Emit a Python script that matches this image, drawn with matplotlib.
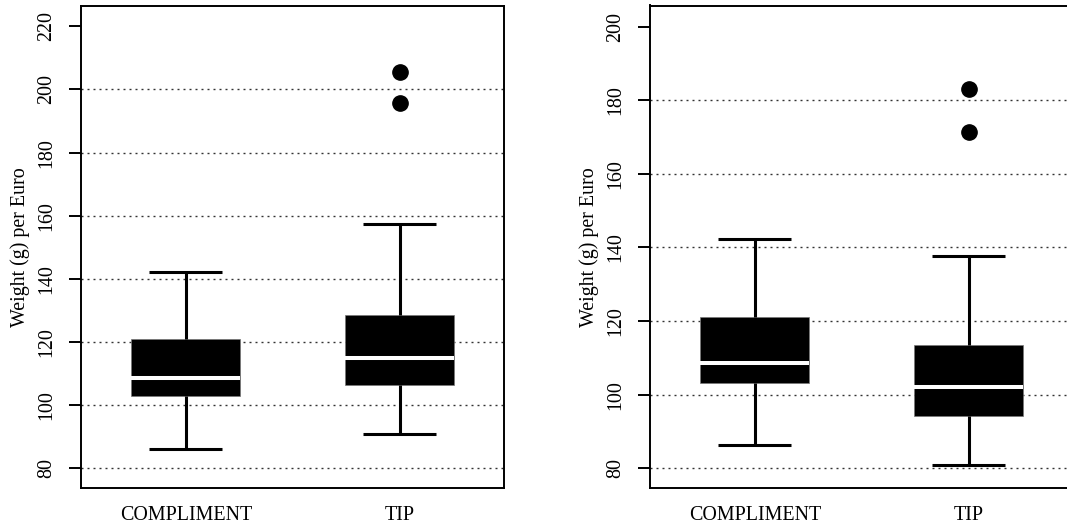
import matplotlib
matplotlib.use("Agg")
import matplotlib.pyplot as plt

# groups shown on both panels
groups = ["COMPLIMENT", "TIP"]

# left panel: whisker low, Q1, median, Q3, whisker high, outliers
left_whislo = [86.0, 90.9]
left_q1 = [102.9, 106.4]
left_med = [108.5, 115.0]
left_q3 = [121.0, 128.6]
left_whishi = [142.1, 157.4]
left_fliers = [[], [195.8, 205.6]]
left_ticks = [80, 100, 120, 140, 160, 180, 200, 220]
left_grid = [80, 100, 120, 140, 160, 180, 200]

# right panel
right_whislo = [86.2, 80.9]
right_q1 = [103.1, 94.1]
right_med = [108.5, 102.0]
right_q3 = [121.0, 113.4]
right_whishi = [142.2, 137.8]
right_fliers = [[], [171.3, 183.1]]
right_ticks = [80, 100, 120, 140, 160, 180, 200]
right_grid = [80, 100, 120, 140, 160, 180]

plt.rcParams['font.family'] = ['Liberation Serif', 'DejaVu Serif']
FS = 14.4
W, H = 1067, 529


def make_stats(lo, q1, med, q3, hi, fl):
    stats = []
    for i in range(len(groups)):
        stats.append({"whislo": lo[i], "q1": q1[i], "med": med[i], "q3": q3[i],
                      "whishi": hi[i], "fliers": fl[i], "label": groups[i]})
    return stats


def draw_panel(ax, stats, ticks, grid, ylim):
    for g in grid:
        ax.axhline(g, color="#333333", lw=1.0, ls=(0, (1.44, 2.88)), zorder=0)
    ax.bxp(stats, positions=[1, 2], widths=0.508, capwidths=0.342,
           patch_artist=True, manage_ticks=False,
           boxprops=dict(facecolor="black", edgecolor="#777777", lw=0.5),
           medianprops=dict(color="white", lw=2.9, solid_capstyle="butt"),
           whiskerprops=dict(color="black", lw=2.2, solid_capstyle="butt"),
           capprops=dict(color="black", lw=2.2, solid_capstyle="butt"),
           flierprops=dict(marker="o", markerfacecolor="black",
                           markeredgecolor="black", markersize=11))
    ax.set_xlim(0.51, 2.486)
    ax.set_ylim(*ylim)
    ax.set_xticks([1, 2])
    ax.set_xticklabels(groups, fontsize=FS)
    ax.set_yticks(ticks)
    ax.set_yticklabels([str(t) for t in ticks], fontsize=FS, rotation=90, va="center")
    ax.tick_params(axis="x", length=0, pad=13)
    ax.tick_params(axis="y", length=8.6, width=1.4, pad=9)
    for s in ax.spines.values():
        s.set_linewidth(1.4)


fig = plt.figure(figsize=(W / 100, H / 100), dpi=100)
bottom = 1 - 488.3 / H
height = (488.3 - 5.5) / H
ax1 = fig.add_axes([81 / W, bottom, 422.6 / W, height])
ax2 = fig.add_axes([650 / W, bottom, 422.6 / W, height])

draw_panel(ax1, make_stats(left_whislo, left_q1, left_med, left_q3, left_whishi, left_fliers),
           left_ticks, left_grid, (73.7, 226.6))
draw_panel(ax2, make_stats(right_whislo, right_q1, right_med, right_q3, right_whishi, right_fliers),
           right_ticks, right_grid, (74.57, 205.75))

ycen = 1 - 246.9 / H
fig.text(20 / W, ycen, "Weight (g) per Euro", rotation=90, ha="center", va="center", fontsize=FS)
fig.text(589 / W, ycen, "Weight (g) per Euro", rotation=90, ha="center", va="center", fontsize=FS)

fig.savefig("out.png", dpi=100)
